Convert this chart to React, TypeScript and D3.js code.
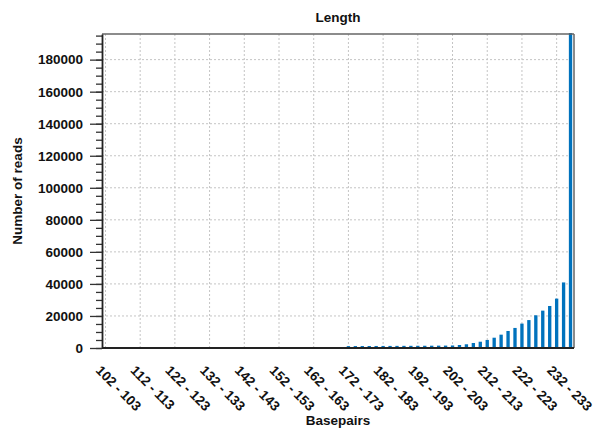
import React, { useEffect, useRef } from 'react';
import * as d3 from 'd3';

// 2 bp bins, 102-103 up to 236-237
const bins = [
  '102 - 103', '104 - 105', '106 - 107', '108 - 109', '110 - 111',
  '112 - 113', '114 - 115', '116 - 117', '118 - 119', '120 - 121',
  '122 - 123', '124 - 125', '126 - 127', '128 - 129', '130 - 131',
  '132 - 133', '134 - 135', '136 - 137', '138 - 139', '140 - 141',
  '142 - 143', '144 - 145', '146 - 147', '148 - 149', '150 - 151',
  '152 - 153', '154 - 155', '156 - 157', '158 - 159', '160 - 161',
  '162 - 163', '164 - 165', '166 - 167', '168 - 169', '170 - 171',
  '172 - 173', '174 - 175', '176 - 177', '178 - 179', '180 - 181',
  '182 - 183', '184 - 185', '186 - 187', '188 - 189', '190 - 191',
  '192 - 193', '194 - 195', '196 - 197', '198 - 199', '200 - 201',
  '202 - 203', '204 - 205', '206 - 207', '208 - 209', '210 - 211',
  '212 - 213', '214 - 215', '216 - 217', '218 - 219', '220 - 221',
  '222 - 223', '224 - 225', '226 - 227', '228 - 229', '230 - 231',
  '232 - 233', '234 - 235', '236 - 237',
];

const reads = [
  0, 0, 0, 0, 0, 0, 0, 0, 0, 0,
  0, 0, 0, 0, 0, 0, 0, 0, 0, 0,
  0, 0, 0, 0, 0, 0, 0, 0, 0, 0,
  0, 0, 0, 0, 0,
  550, 580, 600, 620, 640, 660, 680, 700, 720, 740, 760, 780, 820, 850,
  880, 950, 1250, 1700, 2500, 3300, 4400, 5800, 7700, 10000,
  11900, 14600, 16800, 19800, 22700, 25600, 30200, 40300, 196000,
];

const yTicks = [0, 20000, 40000, 60000, 80000, 100000, 120000, 140000, 160000, 180000];

const font = '"Liberation Sans", Arial, sans-serif';

const App = () => {
  const ref = useRef<SVGSVGElement>(null);

  useEffect(() => {
    const svg = d3.select(ref.current);
    svg.selectAll('*').remove();

    const width = 597;
    const height = 428;
    const margin = { top: 34, right: 23, bottom: 80, left: 102 };
    const innerWidth = width - margin.left - margin.right;
    const innerHeight = height - margin.top - margin.bottom;

    const chart = svg.append('g')
      .attr('transform', `translate(${margin.left},${margin.top})`);

    const x = d3.scaleBand().domain(bins).range([0, innerWidth]).padding(0);
    const y = d3.scaleLinear().domain([0, 196000]).range([innerHeight, 0]);

    const labelled = bins.filter((_, i) => i % 5 === 0);

    // grid
    chart.append('g')
      .selectAll('line')
      .data(labelled)
      .enter()
      .append('line')
      .attr('x1', d => x(d)! + x.bandwidth() / 2)
      .attr('x2', d => x(d)! + x.bandwidth() / 2)
      .attr('y1', 0)
      .attr('y2', innerHeight)
      .attr('stroke', '#c4c4c4')
      .attr('stroke-dasharray', '2,2');

    chart.append('g')
      .selectAll('line')
      .data(yTicks.filter(t => t > 0))
      .enter()
      .append('line')
      .attr('x1', 0)
      .attr('x2', innerWidth)
      .attr('y1', d => y(d))
      .attr('y2', d => y(d))
      .attr('stroke', '#c4c4c4')
      .attr('stroke-dasharray', '2,2');

    // bars
    const bw = x.bandwidth() * 0.48;
    chart.selectAll('rect.bar')
      .data(reads)
      .enter()
      .append('rect')
      .attr('class', 'bar')
      .attr('x', (_, i) => x(bins[i])! + (x.bandwidth() - bw) / 2)
      .attr('y', d => y(d) - (d > 0 ? 1 : 0))
      .attr('width', bw)
      .attr('height', d => innerHeight - y(d) + (d > 0 ? 1 : 0))
      .attr('fill', '#0072bd');

    // frame
    chart.append('line')
      .attr('x1', 0).attr('x2', innerWidth).attr('y1', 0).attr('y2', 0)
      .attr('stroke', '#666').attr('stroke-width', 1.5);
    chart.append('line')
      .attr('x1', innerWidth).attr('x2', innerWidth).attr('y1', 0).attr('y2', innerHeight)
      .attr('stroke', '#666').attr('stroke-width', 1.5);

    // y axis
    const yAxis = chart.append('g');
    yAxis.append('g')
      .call(d3.axisLeft(y).tickValues(d3.range(0, 196000, 5000)).tickSize(6).tickFormat(() => ''))
      .call(g => g.select('.domain').remove())
      .selectAll('line').attr('stroke', '#333').attr('stroke-width', 1.3);
    yAxis.append('g')
      .call(d3.axisLeft(y).tickValues(yTicks).tickSize(12).tickPadding(7).tickSizeOuter(0).tickFormat(d3.format('d')))
      .call(g => g.select('.domain').attr('stroke', '#222').attr('stroke-width', 1.8))
      .call(g => g.selectAll('.tick line').attr('stroke', '#333').attr('stroke-width', 1.3))
      .call(g => g.selectAll('text')
        .attr('font-family', font)
        .attr('font-weight', 'bold')
        .attr('font-size', '13.5px')
        .attr('fill', '#111'));

    // x axis
    chart.append('line')
      .attr('x1', 0).attr('x2', innerWidth).attr('y1', innerHeight).attr('y2', innerHeight)
      .attr('stroke', '#222').attr('stroke-width', 2);

    chart.append('g')
      .selectAll('text')
      .data(labelled)
      .enter()
      .append('text')
      .attr('transform', d => `translate(${x(d)! + x.bandwidth() / 2 - 7},${innerHeight + 20}) rotate(45)`)
      .attr('text-anchor', 'start')
      .attr('dy', '0.35em')
      .attr('font-family', font)
      .attr('font-weight', 'bold')
      .attr('font-size', '13.5px')
      .attr('fill', '#111')
      .text(d => d);

    // titles
    svg.append('text')
      .attr('x', margin.left + innerWidth / 2)
      .attr('y', 22)
      .attr('text-anchor', 'middle')
      .attr('font-family', font)
      .attr('font-weight', 'bold')
      .attr('font-size', '13.5px')
      .attr('fill', '#111')
      .text('Length');

    svg.append('text')
      .attr('x', margin.left + innerWidth / 2)
      .attr('y', 425)
      .attr('text-anchor', 'middle')
      .attr('font-family', font)
      .attr('font-weight', 'bold')
      .attr('font-size', '13.5px')
      .attr('fill', '#111')
      .text('Basepairs');

    svg.append('text')
      .attr('x', -(margin.top + innerHeight / 2))
      .attr('y', 22)
      .attr('transform', 'rotate(-90)')
      .attr('text-anchor', 'middle')
      .attr('font-family', font)
      .attr('font-weight', 'bold')
      .attr('font-size', '13.5px')
      .attr('fill', '#111')
      .text('Number of reads');
  }, []);

  return (
    <svg
      ref={ref}
      width={597}
      height={428}
      style={{ position: 'absolute', left: 0, top: 0, background: '#fff' }}
    />
  );
};

export default App;
